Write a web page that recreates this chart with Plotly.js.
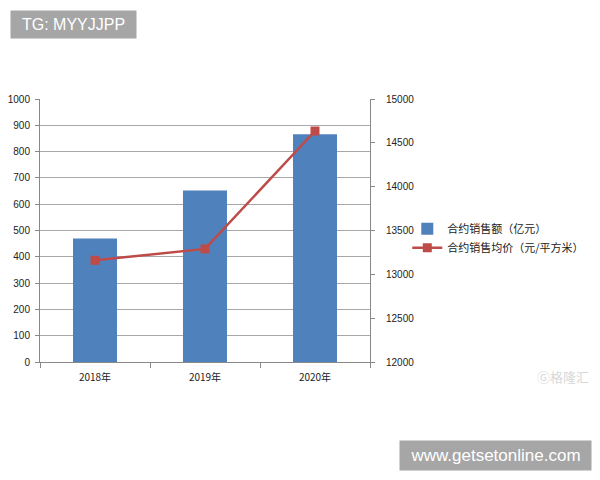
<!DOCTYPE html>
<html><head><meta charset="utf-8">
<script src="https://cdn.plot.ly/plotly-3.0.1.min.js"></script>
<style>html,body{margin:0;padding:0;background:#fff;}#chart{width:600px;height:480px;}</style>
</head><body><div id="chart"></div>
<script>
const categories = ['2018年', '2019年', '2020年'];
const salesAmount = [470, 652, 866];          // 合约销售额（亿元）
const avgPrice = [13160, 13290, 14635];       // 合约销售均价（元/平方米）
const seriesNames = ['合约销售额（亿元）', '合约销售均价（元/平方米）'];
const leftTicks = [0,100,200,300,400,500,600,700,800,900,1000];
const rightTicks = [12000,12500,13000,13500,14000,14500,15000];

const font = '"Liberation Sans", Arial, "Noto Sans CJK SC", sans-serif';
const cjk = '"Noto Sans CJK SC", "Liberation Sans", sans-serif';

const data = [
  {type:'bar', x:categories, y:salesAmount, name:seriesNames[0],
   marker:{color:'#4f81bd', line:{width:0}}, width:0.4, yaxis:'y'},
  {type:'scatter', mode:'lines+markers', x:categories, y:avgPrice, name:seriesNames[1],
   line:{color:'#be4b48', width:2.5}, marker:{symbol:'square', size:9, color:'#be4b48'}, yaxis:'y2'}
];
const layout = {
  width:600, height:480,
  margin:{l:40, r:230, t:99, b:118, pad:0, autoexpand:false},
  paper_bgcolor:'#fff', plot_bgcolor:'#fff',
  font:{family:font, size:10, color:'#222'},
  showlegend:true,
  legend:{x:1.113, y:0.471, xanchor:'left', yanchor:'middle', font:{family:cjk, size:11, color:'#222'},
          bgcolor:'rgba(0,0,0,0)', tracegroupgap:2, itemwidth:30},
  xaxis:{type:'category', showline:true, linecolor:'#888', ticks:'outside', tickson:'boundaries',
         ticklen:5, tickcolor:'#888', tickfont:{family:cjk, size:10}, showgrid:false, zeroline:false,
         range:[-0.5,2.5], automargin:false, ticklabelstandoff:6},
  yaxis:{range:[0,1000], tickvals:leftTicks, ticktext:leftTicks.map(String), showline:true, linecolor:'#888',
         ticks:'outside', ticklen:4, tickcolor:'#888', showgrid:true, gridcolor:'#a8a8a8', gridwidth:1,
         zeroline:false, tickfont:{size:10}, ticklabelstandoff:3, automargin:false},
  yaxis2:{range:[12000,15000], tickvals:rightTicks, ticktext:rightTicks.map(String), overlaying:'y', side:'right',
          showline:true, linecolor:'#888', ticks:'outside', ticklen:4, tickcolor:'#888', showgrid:false,
          zeroline:false, tickfont:{size:10}, ticklabelstandoff:9, automargin:false},
  annotations:[
    {xref:'paper', yref:'paper', x:(10-40)/330, y:(362-10)/263, xanchor:'left', yanchor:'top',
     text:'TG: MYYJJPP', showarrow:false, bgcolor:'#a6a6a6', font:{family:'"Liberation Sans", Arial', size:16, color:'#fff'},
     borderpad:5, width:115, align:'center'},
    {xref:'paper', yref:'paper', x:(399-40)/330, y:(362-440)/263, xanchor:'left', yanchor:'top',
     text:'www.getsetonline.com', showarrow:false, bgcolor:'#a6a6a6', font:{family:'"Liberation Sans", Arial', size:17, color:'#fff'},
     borderpad:5, width:181, align:'center'},
    {xref:'paper', yref:'paper', x:(535-40)/330, y:(362-376)/263, xanchor:'left', yanchor:'middle',
     text:'Ⓖ格隆汇', showarrow:false, font:{family:cjk, size:13, color:'#d8d8d8'}}
  ]
};
Plotly.newPlot('chart', data, layout, {displayModeBar:false, staticPlot:true});
</script></body></html>
